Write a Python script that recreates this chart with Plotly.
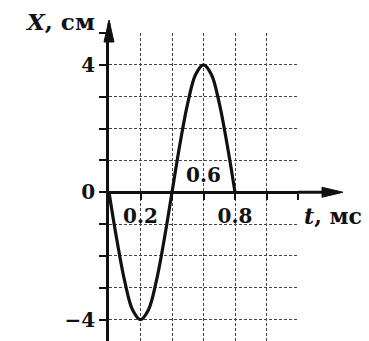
import plotly.graph_objects as go

# data
t_ms = [0.0, 0.05, 0.1, 0.15, 0.2, 0.25, 0.3, 0.35, 0.4, 0.45, 0.5, 0.55, 0.6, 0.65, 0.7, 0.75, 0.8]
x_cm = [0.0, -1.5, -2.8, -3.7, -4.0, -3.7, -2.8, -1.5, 0.0, 1.5, 2.8, 3.7, 4.0, 3.7, 2.8, 1.5, 0.0]

x_tickvals = [0.2, 0.4, 0.6, 0.8, 1.0, 1.2]
x_ticktext = ["0.2", "", "", "0.8", "", ""]
y_tickvals = [-4, -3, -2, -1, 0, 1, 2, 3, 4, 5]
y_ticktext = ["−4", "", "", "", "0", "", "", "", "4", ""]
label_06 = "0.6"

OFF = 8  # page body margin
W, H = 369 - OFF, 341 - OFF
ML, MR, MT, MB = 109 - OFF, 71, 33 - OFF, 0
PW, PH = W - ML - MR, H - MT - MB
XR = [0, 1.2]
YR = [-4.67, 5.0]
zero_paper = (0 - YR[0]) / (YR[1] - YR[0])


def px_x(px):  # page pixel -> paper x
    return (px - OFF - ML) / PW


def px_y(py):  # page pixel -> paper y
    return (H - MB - (py - OFF)) / PH


FONT = "DejaVu Serif"

fig = go.Figure()
fig.add_trace(go.Scatter(
    x=t_ms, y=x_cm, mode="lines",
    line=dict(color="#111", width=3.2, shape="spline", smoothing=1.0),
    hoverinfo="skip", showlegend=False, cliponaxis=False,
))

grid = dict(showgrid=True, gridcolor="#444", gridwidth=1.2, griddash="3px,2px")

fig.update_layout(
    width=W, height=H,
    margin=dict(l=ML, r=MR, t=MT, b=MB, pad=0),
    paper_bgcolor="white", plot_bgcolor="white",
    showlegend=False,
    font=dict(family=FONT, size=20, color="#111", weight="bold"),
    xaxis=dict(
        range=XR, tickvals=x_tickvals, ticktext=x_ticktext,
        anchor="free", position=zero_paper,
        showline=True, linecolor="#111", linewidth=2.8,
        ticks="outside", ticklen=6, tickwidth=2, tickcolor="#111",
        ticklabelstandoff=-1,
        zeroline=False, **grid,
    ),
    yaxis=dict(
        range=YR, tickvals=y_tickvals, ticktext=y_ticktext,
        showline=True, linecolor="#111", linewidth=2.8,
        ticks="outside", ticklen=7, tickwidth=2, tickcolor="#111",
        zeroline=False, **grid,
    ),
)

# y-axis extension and arrowhead
fig.add_shape(type="line", xref="paper", yref="paper",
              xsizemode="pixel", ysizemode="pixel", xanchor=0, yanchor=1,
              x0=0, x1=0, y0=0, y1=10, line=dict(color="#111", width=2.8))
fig.add_shape(type="path", xref="paper", yref="paper",
              xsizemode="pixel", ysizemode="pixel", xanchor=0, yanchor=1,
              path="M0,13 L-5,-9 L5,-9 Z", fillcolor="#111", line=dict(color="#111", width=1))
# x-axis extension and arrowhead
fig.add_shape(type="line", xref="paper", yref="paper",
              xsizemode="pixel", ysizemode="pixel", xanchor=1, yanchor=zero_paper,
              x0=0, x1=40, y0=0, y1=0, line=dict(color="#111", width=2.8))
fig.add_shape(type="path", xref="paper", yref="paper",
              xsizemode="pixel", ysizemode="pixel", xanchor=1, yanchor=zero_paper,
              path="M45,0 L24,-5 L24,5 Z", fillcolor="#111", line=dict(color="#111", width=1))

# labels
fig.add_annotation(text="<i>X</i>, см", xref="paper", yref="paper",
                   x=px_x(97), y=px_y(22),
                   xanchor="right", yanchor="middle", showarrow=False,
                   font=dict(family=FONT, size=23, color="#111", weight="bold"))
fig.add_annotation(text="<i>t</i>, мс", xref="paper", yref="paper",
                   x=px_x(302), y=px_y(216),
                   xanchor="left", yanchor="middle", showarrow=False,
                   font=dict(family=FONT, size=22, color="#111", weight="bold"))
fig.add_annotation(text=label_06, x=0.6, y=0.55, xref="x", yref="y",
                   xanchor="center", yanchor="middle", showarrow=False,
                   font=dict(family=FONT, size=20, color="#111", weight="bold"))

fig.write_html("out.html")
